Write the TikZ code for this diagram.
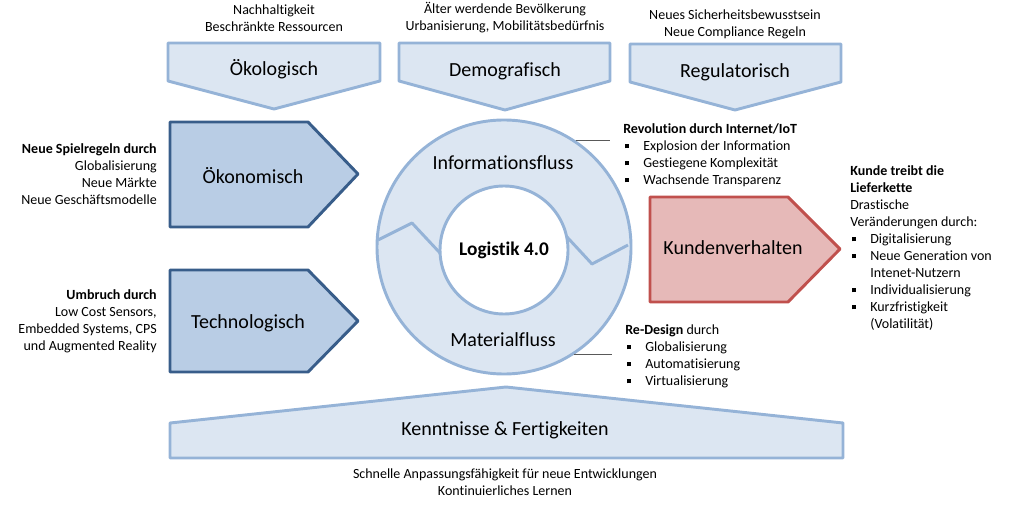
\documentclass[tikz,border=0pt]{standalone}
\usepackage{fontspec}
\setmainfont[Ligatures=NoCommon]{Carlito}
\usepackage{tikz}
\usetikzlibrary{calc}
\usetikzlibrary{positioning}

\definecolor{hellfill}{RGB}{220,230,242}
\definecolor{hellrand}{RGB}{149,179,215}
\definecolor{dunkelfill}{RGB}{185,205,229}
\definecolor{dunkelrand}{RGB}{56,93,138}
\definecolor{rotfill}{RGB}{230,185,184}
\definecolor{rotrand}{RGB}{192,80,77}
\definecolor{leitgrau}{RGB}{89,89,89}

\newcommand{\bul}{\makebox[15pt][l]{\hspace*{1.5pt}\rule[1.6pt]{3pt}{3pt}}}

\begin{document}
\begin{tikzpicture}[x=0.75pt,y=-0.75pt,
    klein/.style={font=\fontsize{10.5}{12.75}\selectfont,inner sep=0pt},
    gross/.style={font=\fontsize{15}{18}\selectfont,inner sep=0pt},
    hellpfeil/.style={fill=hellfill,draw=hellrand,line width=2.2pt,line join=round},
    dunkelpfeil/.style={fill=dunkelfill,draw=dunkelrand,line width=2.2pt,line join=round},
    rotpfeil/.style={fill=rotfill,draw=rotrand,line width=2.2pt,line join=round},
    leit/.style={draw=leitgrau,line width=0.8pt}]

  \useasboundingbox (0,0) rectangle (1012,509);

  % obere Pfeile
  \draw [hellpfeil] (168,43) -- (380,43) -- (380,81) -- (274,109) -- (168,81) -- cycle;
  \draw [hellpfeil] (399,43) -- (610,43) -- (610,81) -- (505,110) -- (399,81) -- cycle;
  \draw [hellpfeil] (630,44) -- (841,44) -- (841,82) -- (735,110) -- (630,82) -- cycle;

  \node [gross] (oekol) at (274,69) {Ökologisch};
  \node [gross] (demo)  at (505,71) {Demografisch};
  \node [gross] (regu)  at (735,72) {Regulatorisch};

  % (base = letzte Zeile)
  \node [klein,align=center,anchor=base] (oekolTxt) at (274,31.5) {Nachhaltigkeit\\Beschränkte Ressourcen};
  \node [klein,align=center,anchor=base] (demoTxt)  at (505,31)   {Älter werdende Bevölkerung\\Urbanisierung, Mobilitätsbedürfnis};
  \node [klein,align=center,anchor=base] (reguTxt)  at (735,37)   {Neues Sicherheitsbewusstsein\\Neue Compliance Regeln};

  % linke Pfeile
  \draw [dunkelpfeil] (170,122) -- (308,122) -- (358,174) -- (308,227) -- (170,227) -- cycle;
  \draw [dunkelpfeil] (170,270) -- (308,270) -- (358,321) -- (308,372) -- (170,372) -- cycle;

  \node [gross] (oekon) at (253,176) {Ökonomisch};
  \node [gross] (tech)  at (248,323) {Technologisch};

  \node [klein,align=right,anchor=base east] (oekonTxt) at (157,204.5)
    {\textbf{Neue Spielregeln durch}\\Globalisierung\\Neue Märkte\\Neue Geschäftsmodelle};
  \node [klein,align=right,anchor=base east] (techTxt) at (157,350.5)
    {\textbf{Umbruch durch}\\Low Cost Sensors,\\Embedded Systems, CPS\\und Augmented Reality};

  % Kreislauf
  \node [hellpfeil,circle,minimum size=190.5pt,inner sep=0pt] (ring) at (504,247) {};
  \draw [draw=hellrand,line width=2.2pt,line join=round] (378,240) -- (412,223) -- (440,253);
  \draw [draw=hellrand,line width=2.2pt,line join=round] (567,237) -- (592,264) -- (628,245);
  \node [circle,fill=white,draw=hellrand,line width=2.2pt,minimum size=96pt,inner sep=0pt,
         font=\fontsize{14.5}{16}\selectfont\bfseries] (kern) at (504,250) {Logistik 4.0};

  \node [gross] (info) at (503,163) {Informationsfluss};
  \node [gross] (mat)  at (503,340) {Materialfluss};

  \coordinate (infoEnde) at (610,143);
  \coordinate (matEnde)  at (612,356);
  \path [leit] (ring.56)  -- (ring.56 -| infoEnde);
  \path [leit] (ring.-57) -- (ring.-57 -| matEnde);

  \node [klein,align=left,anchor=base west] (infoTxt) at (623,184.5)
    {\textbf{Revolution durch Internet/IoT}\\\bul Explosion der Information\\\bul Gestiegene Komplexität\\\bul Wachsende Transparenz};
  \node [klein,align=left,anchor=base west] (matTxt) at (625,385.5)
    {\textbf{Re-Design} durch\\\bul Globalisierung\\\bul Automatisierung\\\bul Virtualisierung};

  % Kunde
  \draw [rotpfeil] (650,197) -- (788,197) -- (840,249) -- (788,302) -- (650,302) -- cycle;
  \node [gross] (kunde) at (733,248) {Kundenverhalten};

  \node [klein,align=left,anchor=base west] (kundeTxt) at (850,328.5)
    {\textbf{Kunde treibt die}\\\textbf{Lieferkette}\\Drastische\\Veränderungen durch:\\\bul Digitalisierung\\\bul Neue Generation von\\\hspace*{15pt}Intenet-Nutzern\\\bul Individualisierung\\\bul Kurzfristigkeit\\\hspace*{15pt}(Volatilität)};

  % unterer Pfeil
  \draw [hellpfeil] (170,423) -- (506,387) -- (843,423) -- (843,458) -- (170,458) -- cycle;
  \node [gross] (kennt) at (505,430) {Kenntnisse \& Fertigkeiten};

  \node [klein,align=center,anchor=base] (kenntTxt) at (505,495.5)
    {Schnelle Anpassungsfähigkeit für neue Entwicklungen\\Kontinuierliches Lernen};

\end{tikzpicture}
\end{document}
